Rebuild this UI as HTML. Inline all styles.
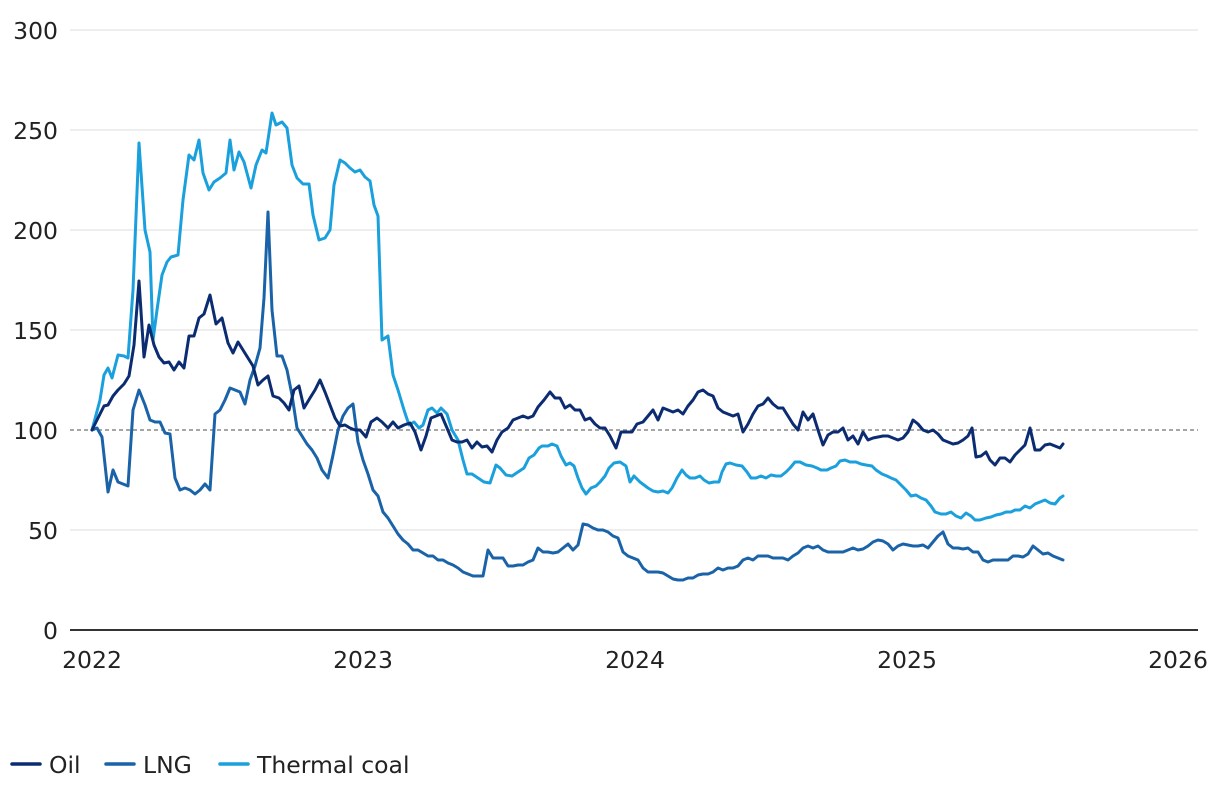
<!DOCTYPE html>
<html><head><meta charset="utf-8"><style>
html,body{margin:0;padding:0;background:#fff;}
svg text{font-family:"DejaVu Sans","Liberation Sans",sans-serif;font-size:23.5px;fill:#222;}
</style></head><body>
<svg width="1220" height="796" viewBox="0 0 1220 796" xmlns="http://www.w3.org/2000/svg">
<g stroke="#dcdcdc" stroke-width="1">
<line x1="70" y1="30" x2="1198" y2="30"/><line x1="70" y1="130" x2="1198" y2="130"/>
<line x1="70" y1="230" x2="1198" y2="230"/><line x1="70" y1="330" x2="1198" y2="330"/>
<line x1="70" y1="530" x2="1198" y2="530"/>
</g>
<line x1="70" y1="430" x2="1198" y2="430" stroke="#888" stroke-width="1.5" stroke-dasharray="4,3"/>
<line x1="70" y1="630" x2="1198" y2="630" stroke="#333" stroke-width="2"/>
<g text-anchor="end">
<text x="58" y="39">300</text><text x="58" y="139">250</text><text x="58" y="239">200</text>
<text x="58" y="339">150</text><text x="58" y="439">100</text><text x="58" y="539">50</text><text x="58" y="639">0</text>
</g>
<g text-anchor="middle">
<text x="92" y="668">2022</text><text x="363" y="668">2023</text><text x="635" y="668">2024</text>
<text x="907" y="668">2025</text><text x="1178" y="668">2026</text>
</g>
<g fill="none" stroke-width="3" stroke-linejoin="round" stroke-linecap="round">
<polyline stroke="#1aa0dc" points="92,430 100,400 104,375 108,368 112,378 118,355 124,356 128,358 133,290 139,143 145,230 150,252 153,340 157,310 162,275 167,262 171,257 178,255 183,200 189,155 194,160 199,140 203,173 209,190 214,182 220,178 226,173 230,140 234,170 239,152 244,162 251,188 256,165 262,150 266,153 272,113 276,125 282,122 287,128 292,165 297,178 303,184 309,184 313,215 319,240 325,238 330,230 334,185 340,160 345,163 350,168 355,172 360,170 365,177 370,181 374,205 378,216 382,340 388,336 393,375 398,390 404,410 409,425 414,422 419,428 423,425 428,410 432,408 437,413 441,408 447,414 452,430 458,440 463,460 467,474 472,474 478,478 484,482 490,483 496,465 500,468 506,475 512,476 518,472 524,468 529,458 534,455 539,448 542,446 548,446 552,444 557,446 561,456 566,465 570,463 574,466 578,478 582,488 586,494 591,488 596,486 600,482 605,476 609,468 614,463 620,462 626,466 630,482 634,476 640,482 644,485 648,488 653,491 658,492 663,491 668,493 672,488 677,478 682,470 686,475 690,478 695,478 700,476 704,480 709,483 714,482 719,482 722,472 726,464 730,463 736,465 742,466 747,472 751,478 756,478 761,476 766,478 771,475 776,476 781,476 786,472 790,468 795,462 800,462 806,465 812,466 817,468 821,470 827,470 831,468 836,466 840,461 845,460 850,462 856,462 861,464 866,465 872,466 876,470 882,474 887,476 891,478 896,480 901,485 906,490 911,496 916,495 921,498 926,500 931,506 935,512 941,514 946,514 951,512 956,516 961,518 966,513 971,516 975,520 980,520 986,518 991,517 996,515 1001,514 1006,512 1011,512 1015,510 1020,510 1025,506 1030,508 1035,504 1040,502 1045,500 1050,503 1055,504 1060,498 1063,496"/>
<polyline stroke="#1a63a8" points="92,430 97,428 102,437 108,492 113,470 118,482 123,484 128,486 133,410 139,390 145,405 150,420 155,422 160,422 165,433 170,434 175,478 180,490 185,488 190,490 195,494 200,490 205,484 210,490 215,414 220,410 225,400 230,388 235,390 240,392 245,404 250,380 255,366 260,348 264,298 268,212 272,310 277,356 282,356 287,370 292,395 297,428 302,436 307,444 312,450 317,458 322,470 328,478 333,455 338,430 343,416 348,408 353,404 358,442 363,460 368,474 373,490 378,496 383,512 388,518 393,526 398,534 403,540 408,544 413,550 418,550 423,553 428,556 433,556 438,560 443,560 448,563 453,565 458,568 463,572 468,574 473,576 478,576 483,576 488,550 493,558 498,558 503,558 508,566 513,566 518,565 523,565 528,562 533,560 538,548 543,552 548,552 553,553 558,552 563,548 568,544 573,550 578,545 583,524 588,525 593,528 598,530 603,530 608,532 613,536 618,538 623,552 628,556 633,558 638,560 643,568 648,572 653,572 658,572 663,573 668,576 673,579 678,580 683,580 688,578 693,578 698,575 703,574 708,574 713,572 718,568 723,570 728,568 733,568 738,566 743,560 748,558 753,560 758,556 763,556 768,556 773,558 778,558 783,558 788,560 793,556 798,553 803,548 808,546 813,548 818,546 823,550 828,552 833,552 838,552 843,552 848,550 853,548 858,550 863,549 868,546 873,542 878,540 883,541 888,544 893,550 898,546 903,544 908,545 913,546 918,546 923,545 928,548 933,542 938,536 943,532 948,544 953,548 958,548 963,549 968,548 973,552 978,552 983,560 988,562 993,560 998,560 1003,560 1008,560 1013,556 1018,556 1023,557 1028,554 1033,546 1038,550 1043,554 1048,553 1053,556 1058,558 1063,560"/>
<polyline stroke="#0c2c72" points="92,430 98,418 104,406 108,405 113,396 118,390 124,384 129,376 134,345 139,281 144,357 149,325 154,345 159,357 164,363 169,362 174,370 179,362 184,368 189,336 194,336 199,318 204,314 210,295 216,324 222,318 228,343 233,353 238,342 243,350 248,358 253,366 258,385 263,380 268,376 273,396 279,398 284,403 289,410 294,390 299,386 304,408 310,398 315,390 320,380 325,392 330,405 335,418 340,426 345,425 350,428 355,430 360,430 366,437 371,422 377,418 382,422 388,428 393,422 398,428 404,425 410,423 415,432 421,450 426,436 431,418 436,416 441,414 447,428 452,440 457,442 462,442 467,440 472,448 477,442 482,447 487,446 492,452 497,440 502,432 508,428 513,420 518,418 523,416 528,418 533,416 538,407 544,400 550,392 555,398 560,398 565,408 570,405 575,410 580,410 585,420 590,418 595,424 600,428 605,428 610,436 616,448 621,432 626,432 632,432 637,424 643,422 648,416 653,410 658,420 663,408 668,410 673,412 678,410 683,414 688,406 693,400 698,392 703,390 708,394 713,396 718,408 723,412 728,414 733,416 738,414 743,432 748,424 753,414 758,406 763,404 768,398 773,404 778,408 783,408 788,416 793,424 798,430 803,412 808,420 813,414 818,430 823,445 828,435 833,432 838,432 843,428 848,440 853,436 858,444 863,432 868,440 873,438 878,437 883,436 888,436 893,438 898,440 903,438 908,432 913,420 918,424 923,430 928,432 933,430 938,434 943,440 948,442 953,444 958,443 963,440 968,436 972,428 976,457 981,456 986,452 990,460 995,465 1000,458 1005,458 1010,462 1015,455 1020,450 1025,445 1030,428 1035,450 1040,450 1045,445 1050,444 1055,446 1060,448 1063,444"/>
</g>
<g stroke-width="3.5" stroke-linecap="round">
<line x1="12" y1="764" x2="40" y2="764" stroke="#0c2c72"/>
<line x1="106" y1="764" x2="134" y2="764" stroke="#1a63a8"/>
<line x1="220" y1="764" x2="248" y2="764" stroke="#1aa0dc"/>
</g>
<text x="49" y="773">Oil</text><text x="143" y="773">LNG</text><text x="257" y="773">Thermal coal</text>
</svg>
</body></html>
